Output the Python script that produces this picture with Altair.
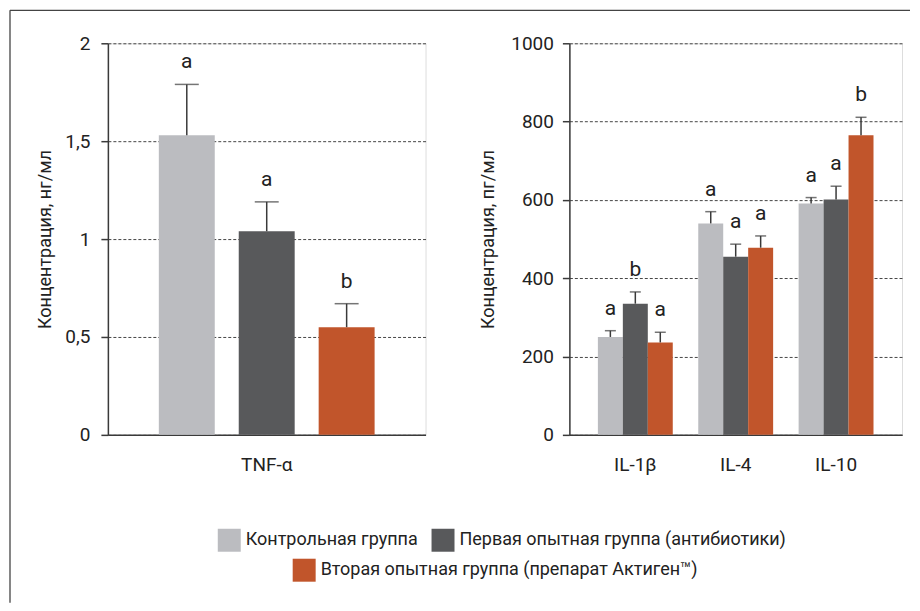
import altair as alt
import pandas as pd

groups = [
    "Контрольная группа",
    "Первая опытная группа (антибиотики)",
    "Вторая опытная группа (препарат Актиген™)",
]
colors = ["#BBBCC0", "#58595B", "#C1552B"]

# TNF-alpha, ng/ml
tnf_cat = ["TNF-α"]
tnf_mean = [1.53, 1.04, 0.55]
tnf_upper = [1.79, 1.19, 0.67]
tnf_letters = ["a", "a", "b"]

# interleukins, pg/ml
il_cats = ["IL-1β", "IL-4", "IL-10"]
il_mean = {
    "IL-1β": [250, 335, 236],
    "IL-4": [540, 455, 478],
    "IL-10": [591, 601, 765],
}
il_upper = {
    "IL-1β": [266, 365, 262],
    "IL-4": [570, 487, 508],
    "IL-10": [606, 635, 811],
}
il_letters = {
    "IL-1β": ["a", "b", "a"],
    "IL-4": ["a", "a", "a"],
    "IL-10": ["a", "a", "b"],
}

left_rows = []
for i, g in enumerate(groups):
    left_rows.append(dict(cytokine=tnf_cat[0], group=g, mean=tnf_mean[i],
                          upper=tnf_upper[i], letter=tnf_letters[i]))
df_left = pd.DataFrame(left_rows)

right_rows = []
for c in il_cats:
    for i, g in enumerate(groups):
        right_rows.append(dict(cytokine=c, group=g, mean=il_mean[c][i],
                               upper=il_upper[c][i], letter=il_letters[c][i]))
df_right = pd.DataFrame(right_rows)
df_dummy = pd.DataFrame([dict(cytokine="IL-10", group=groups[2], mean=0)])

FONT = "Roboto, sans-serif"
LINE = "#3a3a3a"
TICK_FS = 19
LEG_FS = 18

color_enc = alt.Color(
    "group:N",
    scale=alt.Scale(domain=groups, range=colors),
    legend=alt.Legend(
        orient="none", legendX=110, legendY=486, direction="horizontal",
        title=None, values=groups[:2], columnPadding=13, labelOffset=5,
        symbolType="square", symbolSize=529, symbolOpacity=1,
        symbolStrokeWidth=0,
    ),
)


def panel(df, cats, ydomain, yvalues, ytitle, xpad_inner, xpad_outer,
          off_inner, cap, label_expr, title_pad, label_pad):
    x_axis = alt.Axis(title=None, ticks=False, labelAngle=0,
                      labelPadding=21, domainColor=LINE,
                      domainWidth=1.5, labelFontSize=19)
    y_axis = alt.Axis(values=yvalues, title=ytitle, labelExpr=label_expr,
                      grid=True, gridDash=[3, 2], gridColor="#444444",
                      gridWidth=1, tickSize=7, tickColor=LINE,
                      tickWidth=1.5, domainColor=LINE, domainWidth=1.5,
                      labelPadding=label_pad, titlePadding=title_pad,
                      labelFontSize=TICK_FS, titleFontSize=18)
    yscale = alt.Scale(domain=ydomain, nice=False)
    base = alt.Chart(df).encode(
        x=alt.X("cytokine:N", sort=cats,
                scale=alt.Scale(domain=cats, paddingInner=xpad_inner,
                                paddingOuter=xpad_outer),
                axis=x_axis),
        xOffset=alt.XOffset("group:N", sort=groups,
                            scale=alt.Scale(domain=groups,
                                            paddingInner=off_inner,
                                            paddingOuter=0)),
    )
    bars = base.mark_bar().encode(
        y=alt.Y("mean:Q", scale=yscale, axis=y_axis, title=ytitle),
        color=color_enc,
    )
    rules = base.mark_rule(color=LINE, strokeWidth=1.5).encode(
        y=alt.Y("mean:Q", scale=yscale, axis=y_axis, title=ytitle), y2="upper:Q")
    caps = base.mark_tick(color=LINE, thickness=1.5, size=cap).encode(
        y=alt.Y("upper:Q", scale=yscale, axis=y_axis, title=ytitle))
    letters = base.mark_text(baseline="alphabetic", dy=-16, fontSize=21,
                             color="#222222", font=FONT).encode(
        y=alt.Y("upper:Q", scale=yscale, axis=y_axis, title=ytitle),
        text="letter:N")
    return bars, rules, caps, letters, x_axis, y_axis, yscale


lb, lr, lc, lt, lxa, lya, lys = panel(
    df_left, tnf_cat, [0, 2], [0, 0.5, 1, 1.5, 2],
    "Концентрация, нг/мл", 0, 0.236, 0.3, 24,
    "replace(toString(datum.value), '.', ',')", 10, 11)

frame_src = alt.Chart(pd.DataFrame({"k": [0]}))
frame_v = frame_src.mark_rule(color="#444444", strokeWidth=1.3).encode(
    x=alt.value(-98), y=alt.value(-33), y2=alt.value(560))
frame_h = frame_src.mark_rule(color="#444444", strokeWidth=1.3).encode(
    x=alt.value(-98), x2=alt.value(803), y=alt.value(-33))

left = alt.layer(lb, lr, lc, lt, frame_v, frame_h).properties(width=318, height=392)

rb, rr, rc, rt, rxa, rya, rys = panel(
    df_right, il_cats, [0, 1000], [0, 200, 400, 600, 800, 1000],
    "Концентрация, пг/мл", 0.254, 0.284, 0, 11,
    "toString(datum.value)", 13, 9)

dummy = alt.Chart(df_dummy).mark_square(opacity=0).encode(
    x=alt.X("cytokine:N", sort=il_cats,
            scale=alt.Scale(domain=il_cats, paddingInner=0.254,
                            paddingOuter=0.284),
            axis=rxa),
    y=alt.Y("mean:Q", scale=rys, axis=rya, title="Концентрация, пг/мл"),
    fill=alt.Fill("group:N",
                  scale=alt.Scale(domain=[groups[2]], range=[colors[2]]),
                  legend=alt.Legend(orient="none", legendX=185, legendY=516,
                                    title=None, labelOffset=5,
                                    symbolType="square", symbolSize=529,
                                    symbolOpacity=1, symbolStrokeWidth=0)),
)

right = alt.layer(rb, rr, rc, rt, dummy).properties(width=333, height=392)

chart = alt.hconcat(left, right, spacing=144, bounds="flush").resolve_scale(
    x="independent", y="independent", xOffset="independent"
).properties(
    padding={"left": 0, "top": 0, "right": 0, "bottom": 0},
).configure_view(stroke="transparent", strokeWidth=0).configure(
    font=FONT
).configure_axis(
    labelFont=FONT, titleFont=FONT, labelColor="#222222", titleColor="#222222",
    titleFontWeight="normal",
).configure_legend(
    labelFont=FONT, labelFontSize=LEG_FS, labelColor="#222222", labelLimit=0,
)

chart.save("out.html", embed_options={"renderer": "svg", "actions": False})
